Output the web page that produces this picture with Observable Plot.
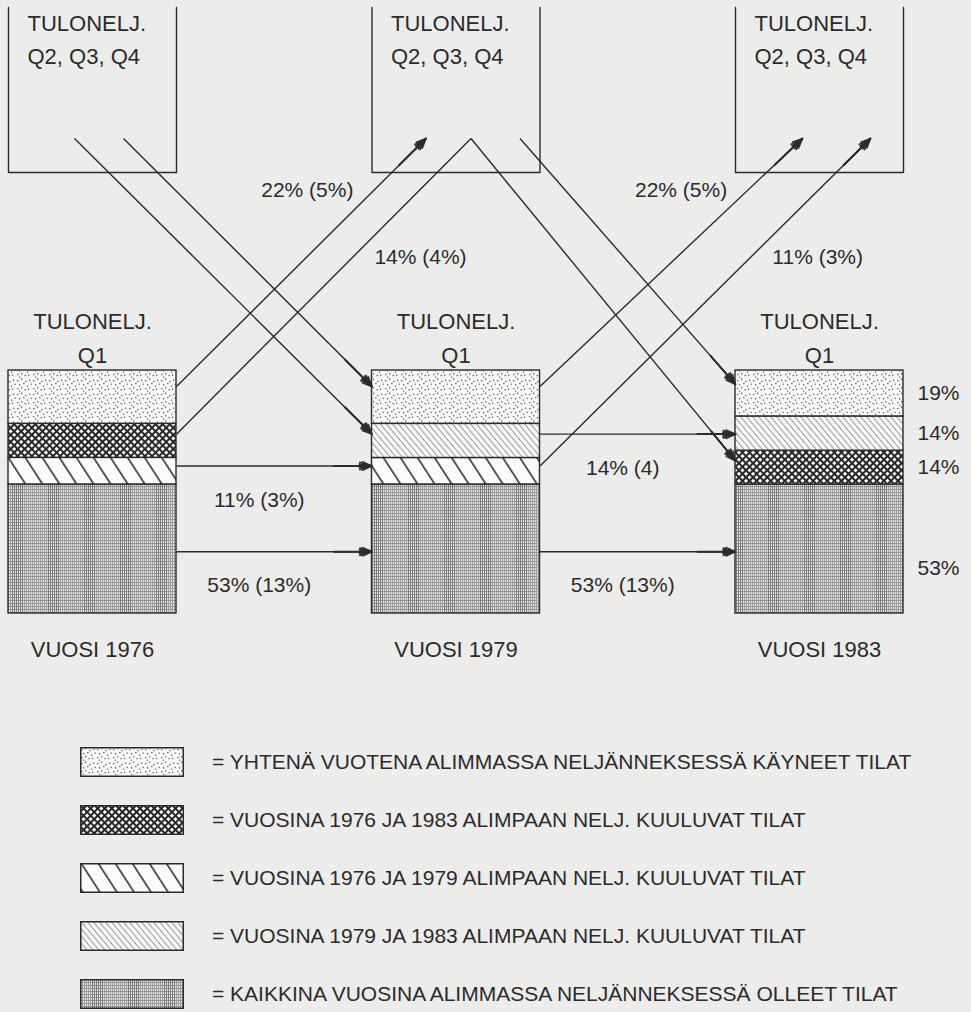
<!DOCTYPE html>
<html><head><meta charset="utf-8">
<script src="https://cdn.jsdelivr.net/npm/d3@7"></script>
<script src="https://cdn.jsdelivr.net/npm/@observablehq/plot@0.6"></script>
<style>
html,body{margin:0;padding:0;background:#ececeb;}
body{width:971px;height:1012px;position:relative;overflow:hidden;font-family:"Liberation Sans",Arial,sans-serif;color:#2b2b2b;}
#chart{position:absolute;left:0;top:0;}
#legend{position:absolute;left:80px;top:747px;}
.row{display:flex;align-items:center;height:30px;margin-bottom:28px;}
.row svg{margin-right:28px;flex:none;display:block;}
.row span{font-size:21px;white-space:nowrap;line-height:30px;}
</style></head><body>
<svg width="0" height="0" style="position:absolute;left:0;top:0">
<defs>
<pattern id="pat-dots" patternUnits="userSpaceOnUse" width="16" height="14">
  <rect width="16" height="14" fill="#f8f8f7"/>
  <g fill="#6e6e6e">
    <rect x="1" y="2" width="1.6" height="1.2"/><rect x="5" y="0.5" width="1.2" height="1.6"/>
    <rect x="9" y="3" width="1.6" height="1.2"/><rect x="13" y="1.5" width="1.2" height="1.5"/>
    <rect x="3" y="6" width="1.2" height="1.6"/><rect x="7" y="5" width="1.6" height="1.2"/>
    <rect x="11" y="7.5" width="1.3" height="1.3"/><rect x="14.5" y="5.5" width="1.2" height="1.5"/>
    <rect x="1" y="10" width="1.5" height="1.2"/><rect x="5" y="9" width="1.2" height="1.5"/>
    <rect x="8.5" y="11" width="1.6" height="1.2"/><rect x="12" y="10.5" width="1.2" height="1.6"/>
    <rect x="3" y="12.6" width="1.3" height="1.2"/>
  </g>
</pattern>
<pattern id="pat-cross" patternUnits="userSpaceOnUse" width="5" height="5" patternTransform="rotate(45)">
  <rect width="5" height="5" fill="#fbfbfb"/>
  <path d="M0,-1V6M5,-1V6M-1,0H6M-1,5H6" stroke="#262626" stroke-width="2.0"/>
</pattern>
<pattern id="pat-wide" patternUnits="userSpaceOnUse" width="14.3" height="10" patternTransform="rotate(-33)">
  <rect width="14.3" height="10" fill="#fbfbfb"/>
  <path d="M0.8,0V10" stroke="#262626" stroke-width="1.5"/>
</pattern>
<pattern id="pat-light" patternUnits="userSpaceOnUse" width="4.6" height="10" patternTransform="rotate(-40)">
  <rect width="4.6" height="10" fill="#f6f6f6"/>
  <path d="M0.5,0V10" stroke="#8e8e8e" stroke-width="0.9"/>
</pattern>
<pattern id="pat-grid" patternUnits="userSpaceOnUse" width="36" height="3">
  <rect width="36" height="3" fill="#e2e2e2"/>
  <path d="M0,0.5H36" stroke="#929292" stroke-width="0.9"/>
  <g stroke="#909090" stroke-width="0.8">
    <path d="M0.5,0V3M2.5,0V3M4.5,0V3M6.5,0V3M8.5,0V3M10.5,0V3M24.5,0V3M26.5,0V3M28.5,0V3M30.5,0V3M32.5,0V3M34.5,0V3"/>
  </g>
  <g stroke="#727272" stroke-width="0.9">
    <path d="M12.5,0V3M14.5,0V3M16.5,0V3M18.5,0V3M20.5,0V3M22.5,0V3"/>
  </g>
</pattern>
</defs>
</svg>
<div id="chart"></div>
<div id="legend"></div>
<script>
// ---------------- DATA ----------------
const years = ["VUOSI 1976", "VUOSI 1979", "VUOSI 1983"];
const boxLabels = ["TULONELJ.", "Q2, Q3, Q4"];
const q1Labels = ["TULONELJ.", "Q1"];

// stacking order (top to bottom) and shares (%) of the lowest income quarter
const order1976 = ["dots", "cross", "wide", "grid"];
const values1976 = [22, 14, 11, 53];
const order1979 = ["dots", "light", "wide", "grid"];
const values1979 = [22, 14, 11, 53];
const order1983 = ["dots", "light", "cross", "grid"];
const values1983 = [19, 14, 14, 53];
const rightLabels1983 = ["19%", "14%", "14%", "53%"];

const categories = ["dots", "cross", "wide", "light", "grid"];
const categoryLabels = [
  "= YHTENÄ VUOTENA ALIMMASSA NELJÄNNEKSESSÄ KÄYNEET TILAT",
  "= VUOSINA 1976 JA 1983 ALIMPAAN NELJ. KUULUVAT TILAT",
  "= VUOSINA 1976 JA 1979 ALIMPAAN NELJ. KUULUVAT TILAT",
  "= VUOSINA 1979 JA 1983 ALIMPAAN NELJ. KUULUVAT TILAT",
  "= KAIKKINA VUOSINA ALIMMASSA NELJÄNNEKSESSÄ OLLEET TILAT"
];

// flows between the lowest quarter (year index, category) and the upper quarters box
const flows = [
  {from: [0, "dots"], to: ["box", 1], label: "22% (5%)"},
  {from: [0, "cross"], via: ["box", 1], to: [2, "cross"], label: "14% (4%)"},
  {from: [0, "wide"], to: [1, "wide"], label: "11% (3%)"},
  {from: [0, "grid"], to: [1, "grid"], label: "53% (13%)"},
  {from: ["box", 0], to: [1, "dots"]},
  {from: ["box", 0], to: [1, "light"]},
  {from: [1, "dots"], to: ["box", 2], label: "22% (5%)"},
  {from: [1, "wide"], to: ["box", 2], label: "11% (3%)"},
  {from: [1, "light"], to: [2, "light"], label: "14% (4)"},
  {from: [1, "grid"], to: [2, "grid"], label: "53% (13%)"},
  {from: ["box", 1], to: [2, "dots"]}
];

// ---------------- LAYOUT ----------------
const KX = 363.5, KY = 2.43;            // px per x unit / per percent
const HW = 84 / KX;                     // half bar width
const BOX_BOTTOM = (613 - 172) / KY;
const BOX_TOP = (613 - 7) / KY;
const BOX_ANCHOR = (613 - 138) / KY;
const HEAD_PX = 38;
const boxDxPx = {0: -30, 1: 15, 4: 31, 5: -18, 6: -17, 7: 51, 10: 64};
const labelPlace = {0: "upLeft", 1: "upRight", 2: "below", 3: "below", 6: "upLeft", 7: "upRight", 8: "below", 9: "below"};
const INK = "#2b2b2b";
const FONT = "Liberation Sans, Arial, sans-serif";

// ---------------- DERIVED ----------------
const yearData = [[order1976, values1976], [order1979, values1979], [order1983, values1983]];
const segments = [];
yearData.forEach(([order, values], i) => {
  let top = 100;
  order.forEach((cat, j) => {
    segments.push({year: i, cat, y2: top, y1: top - values[j], value: values[j]});
    top -= values[j];
  });
});
const seg = (i, cat) => segments.find(s => s.year === i && s.cat === cat);
const anchor = (i, cat) => { const s = seg(i, cat); return s.y2 - (cat === "grid" ? 0.52 : 0.3) * (s.y2 - s.y1); };

const polylines = flows.map((f, k) => {
  const pts = [];
  const endpoint = (e, role) => {
    if (e[0] === "box") return {x: e[1] + boxDxPx[k] / KX, y: BOX_ANCHOR};
    return {x: role === "src" ? e[0] + HW : e[0] - HW, y: anchor(e[0], e[1])};
  };
  pts.push(endpoint(f.from, "src"));
  if (f.via) pts.push(endpoint(f.via, "via"));
  const end = endpoint(f.to, "dst");
  if (f.from[0] !== "box" && f.to[0] !== "box" && !f.via) end.y = pts[0].y; // horizontal
  pts.push(end);
  return {k, pts, label: f.label};
});
const lineSegs = [], headSegs = [];
polylines.forEach(p => {
  for (let i = 0; i < p.pts.length - 1; i++) {
    const s = {x1: p.pts[i].x, y1: p.pts[i].y, x2: p.pts[i + 1].x, y2: p.pts[i + 1].y};
    lineSegs.push(s);
    if (i === p.pts.length - 2) {
      const lenPx = Math.hypot((s.x2 - s.x1) * KX, (s.y2 - s.y1) * KY);
      const e = HEAD_PX / lenPx;
      headSegs.push({x1: s.x2 - e * (s.x2 - s.x1), y1: s.y2 - e * (s.y2 - s.y1), x2: s.x2, y2: s.y2});
    }
  }
});
const flowLabels = polylines.filter(p => p.label).map(p => {
  const place = labelPlace[p.k];
  const a = p.pts[0], b = p.pts[1];
  if (place === "below") return {x: (a.x + p.pts[p.pts.length - 1].x) / 2, y: a.y, text: p.label, place};
  const y = BOX_ANCHOR - (place === "upLeft" ? 21.5 : 49);
  const t = (y - a.y) / (b.y - a.y);
  return {x: a.x + t * (b.x - a.x), y, text: p.label, place};
});
const boxPts = [];
[0, 1, 2].forEach(i => {
  boxPts.push({box: i, x: i - HW, y: BOX_TOP}, {box: i, x: i - HW, y: BOX_BOTTOM},
              {box: i, x: i + HW, y: BOX_BOTTOM}, {box: i, x: i + HW, y: BOX_TOP});
});
const right1983 = order1983.map((cat, j) => {
  const s = seg(2, cat);
  return {x: 2 + HW, y: s.y2 - (cat === "grid" ? 0.65 : 0.5) * (s.y2 - s.y1), text: rightLabels1983[j]};
});
const idx = [0, 1, 2];

const headMark = (angle, sw) => Plot.arrow(headSegs, {x1: "x1", y1: "y1", x2: "x2", y2: "y2", stroke: INK, strokeWidth: sw, headLength: 12, headAngle: angle});
const labelMark = (place, opts) => Plot.text(flowLabels.filter(d => d.place === place), {x: "x", y: "y", text: "text", fill: INK, fontSize: 21, ...opts});

const chart = Plot.plot({
  width: 971, height: 680,
  marginLeft: 92, marginRight: 152, marginTop: 5.5, marginBottom: 67,
  x: {domain: [0, 2], axis: null},
  y: {domain: [0, 250], axis: null},
  style: {background: "transparent", fontFamily: FONT, fontSize: "21px", color: INK, overflow: "visible"},
  marks: [
    Plot.line(boxPts, {x: "x", y: "y", z: "box", stroke: INK, strokeWidth: 1.4}),
    Plot.text(idx, {x: d => d - HW, y: () => BOX_TOP, text: () => boxLabels[0], textAnchor: "start", dx: 19, dy: 16.5, fontSize: 22, fill: INK}),
    Plot.text(idx, {x: d => d - HW, y: () => BOX_TOP, text: () => boxLabels[1], textAnchor: "start", dx: 19, dy: 49, fontSize: 22, fill: INK}),
    ...categories.map(cat => Plot.rect(segments.filter(s => s.cat === cat), {
      x1: d => d.year - HW, x2: d => d.year + HW, y1: "y1", y2: "y2",
      fill: `url(#pat-${cat})`, stroke: INK, strokeWidth: 1.4
    })),
    Plot.link(lineSegs, {x1: "x1", y1: "y1", x2: "x2", y2: "y2", stroke: INK, strokeWidth: 1.4}),
    headMark(50, 1.3), headMark(34, 1.6), headMark(18, 1.8),
    labelMark("below", {textAnchor: "middle", dx: -15, dy: 34}),
    labelMark("upLeft", {textAnchor: "end", dx: -20}),
    labelMark("upRight", {textAnchor: "start", dx: 22}),
    Plot.text(right1983, {x: "x", y: "y", text: "text", textAnchor: "start", dx: 14, fill: INK, fontSize: 21}),
    Plot.text(idx, {x: d => d, y: () => 100, text: () => q1Labels[0], dy: -49, fill: INK, fontSize: 22}),
    Plot.text(idx, {x: d => d, y: () => 100, text: () => q1Labels[1], dy: -15, fill: INK, fontSize: 22}),
    Plot.text(idx, {x: d => d, y: () => 0, text: d => years[d], dy: 36, fill: INK, fontSize: 22})
  ]
});
document.getElementById("chart").appendChild(chart);

// ---------------- LEGEND ----------------
const legend = d3.select("#legend");
categories.forEach((cat, i) => {
  const row = legend.append("div").attr("class", "row");
  const sw = row.append("svg").attr("width", 104).attr("height", 30);
  sw.append("rect").attr("x", 0.75).attr("y", 0.75).attr("width", 102.5).attr("height", 28.5)
    .attr("fill", `url(#pat-${cat})`).attr("stroke", INK).attr("stroke-width", 1.5);
  row.append("span").text(categoryLabels[i]);
});
</script>
</body></html>
